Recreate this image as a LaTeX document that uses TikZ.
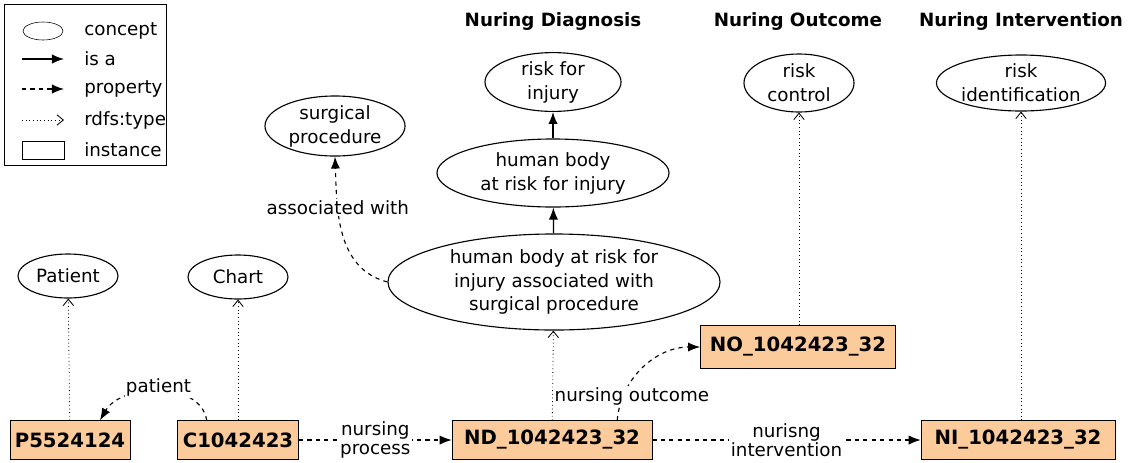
\documentclass[tikz,border=0pt]{standalone}
\usepackage{fontspec}
\setmainfont{DejaVu Sans}
\usetikzlibrary{arrows.meta,positioning,shapes.geometric}
\definecolor{boxorange}{RGB}{251,203,155}
\tikzset{
    % arrow styles
    isa/.style={-{Latex[length=3mm,width=2.3mm]}, thick},
    prop/.style={-{Latex[length=3mm,width=2.3mm]}, dashed, thick},
    rdftype/.style={-{Straight Barb[length=1.6mm,width=2.6mm]}, dotted, semithick},
    % node styles
    concept/.style={
           ellipse,
           draw=black, thick,
           align=center,
           inner sep=0pt,
           font=\fontsize{13}{17}\selectfont},
    instance/.style={
           rectangle,
           draw=black,
           fill=boxorange,
           minimum height=0.97cm,
           font=\fontsize{14}{17}\selectfont\bfseries},
    lbl/.style={
           fill=white,
           inner sep=1pt,
           align=center,
           font=\fontsize{13}{13.5}\selectfont},
    header/.style={font=\fontsize{13}{15}\selectfont\bfseries},
    legtext/.style={anchor=west, inner sep=0pt, font=\fontsize{13}{15}\selectfont}
}
\begin{document}
\begin{tikzpicture}[x=0.025cm, y=-0.025cm]
    \useasboundingbox (0,0) rectangle (1129,462);
    % LEGEND
    \draw (4,4) rectangle (166,165);
    \node[ellipse, draw, minimum width=1cm, minimum height=0.45cm, inner sep=0pt] (legellipse) at (43,31) {};
    \node[legtext] (legconcept) at (84,31) {concept};
    \coordinate (isaA) at (22,59);
    \coordinate (isaB) at (64,59);
    \draw[isa] (isaA) -- (isaB);
    \node[legtext] (legisa) at (84,59) {is a};
    \coordinate (propA) at (22,89);
    \coordinate (propB) at (64,89);
    \draw[prop] (propA) -- (propB);
    \node[legtext] (legprop) at (84,89) {property};
    \coordinate (typeA) at (22,120);
    \coordinate (typeB) at (64,120);
    \draw[rdftype] (typeA) -- (typeB);
    \node[legtext] (legtype) at (84,120) {rdfs:type};
    \node[draw, minimum width=1.05cm, minimum height=0.45cm] (leginst) at (43,150) {};
    \node[legtext] (leginstance) at (84,150) {instance};

    % HEADERS
    \node[header] (hdiag) at (553,22) {Nuring Diagnosis};
    \node[header] (hout) at (798,22) {Nuring Outcome};
    \node[header] (hint) at (1021,22) {Nuring Intervention};

    % CONCEPTS
    \node[concept, minimum width=3.4cm, minimum height=1.4cm] (riskinj) at (553,82) {risk for\\injury};
    \node[concept, minimum width=2.75cm, minimum height=1.45cm] (riskctrl) at (799,83) {risk\\control};
    \node[concept, minimum width=3.4cm, minimum height=1.4cm] (riskid) at (1021,83) {risk\\identification};
    \node[concept, minimum width=3.5cm, minimum height=1.5cm] (surg) at (335,126) {surgical\\procedure};
    \node[concept, minimum width=5.8cm, minimum height=1.7cm] (bodyrisk) at (553,173) {human body\\at risk for injury};
    \node[concept, minimum width=8.3cm, minimum height=2.4cm] (bodysurg) at (554,282) {human body at risk for\\injury associated with\\surgical procedure};
    \node[concept, minimum width=2.5cm, minimum height=1.1cm] (patient) at (68,276) {Patient};
    \node[concept, minimum width=2.5cm, minimum height=1.1cm] (chart) at (238,277) {Chart};

    % INSTANCES
    \node[instance, minimum width=3cm] (pbox) at (70,440) {P5524124};
    \node[instance, minimum width=3.03cm] (cbox) at (238,440) {C1042423};
    \node[instance, minimum width=5cm] (ndbox) at (552,440) {ND\_1042423\_32};
    \node[instance, minimum width=4.88cm, minimum height=1.07cm] (nobox) at (798,347) {NO\_1042423\_32};
    \node[instance, minimum width=4.85cm] (nibox) at (1018,440) {NI\_1042423\_32};

    % is a
    \draw[isa] (bodysurg) -- (bodyrisk);
    \draw[isa] (bodyrisk) -- (riskinj);

    % rdfs:type
    \draw[rdftype] (pbox) -- (patient);
    \draw[rdftype] (cbox) -- (chart);
    \draw[rdftype] (ndbox) -- (bodysurg);
    \draw[rdftype] (nobox.north -| riskctrl) -- (riskctrl);
    \draw[rdftype] (nibox.north -| riskid) -- (riskid);

    % properties
    \draw[prop] (bodysurg.west) to[out=165, in=-88]
        node[lbl, pos=0.68] {associated with} (surg.south);
    \draw[prop] ([xshift=-0.78cm]cbox.north) to[out=100, in=60]
        node[lbl, pos=0.5, yshift=0.1cm] {patient} ([xshift=0.75cm]pbox.north);
    \draw[prop] (cbox) -- node[lbl] {nursing\\process} (ndbox);
    \draw[prop] (ndbox) -- node[lbl] {nurisng\\intervention} (nibox);
    \draw[prop] ([xshift=1.63cm]ndbox.north) to[out=85, in=180]
        node[lbl, pos=0.2, xshift=0.22cm] {nursing outcome} (nobox.west);
\end{tikzpicture}
\end{document}
